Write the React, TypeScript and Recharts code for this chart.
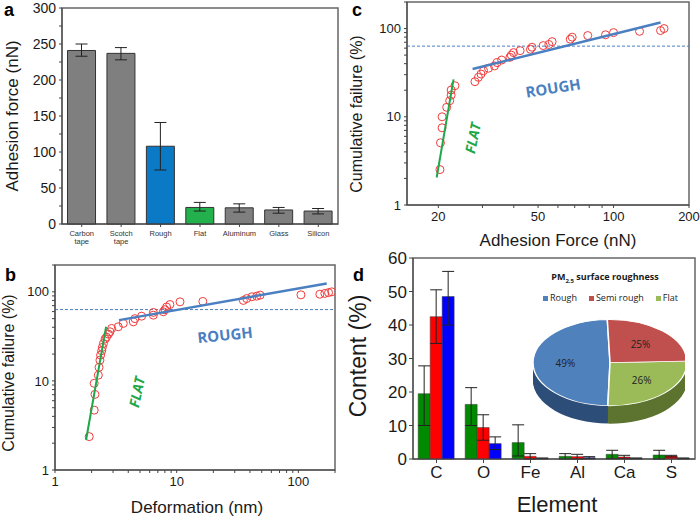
import React from "react";
import {
  BarChart,
  Bar,
  XAxis,
  YAxis,
  ErrorBar,
  Cell,
  ReferenceLine,
  ScatterChart,
  Scatter,
  PieChart,
  Pie,
} from "recharts";

// panel a
const substrates = ["Carbon tape", "Scotch tape", "Rough", "Flat", "Aluminum", "Glass", "Silicon"];
const adhesion = [241, 237, 108, 23, 22.5, 19.5, 18];
const adhesionErr = [[8, 9], [9, 8], [33, 33], [5, 7], [6, 5.5], [4.5, 3.5], [4, 3.5]];
const substrateColors = ["#7f7f7f", "#7f7f7f", "#0a79c6", "#22b14c", "#7f7f7f", "#7f7f7f", "#7f7f7f"];
const adhesionTicks = [0, 25, 50, 75, 100, 125, 150, 175, 200, 225, 250, 275, 300];

// panel b
const deformation = [1.91, 2.1, 2.13, 2.1, 2.27, 2.3, 2.34, 2.37, 2.42, 2.45, 2.5, 2.58, 2.65, 2.75, 2.83, 2.92, 3.31, 3.64, 4.4, 4.54, 5.15, 6.43, 6.43, 7.77, 8.0, 8.26, 8.8, 10.65, 16.4, 35.3, 37.6, 41.5, 45.5, 48.5, 105, 150, 165, 177, 188];
const deformFail = [2.37, 4.7, 7.06, 9.4, 11.6, 14.2, 17.1, 19.5, 21.8, 23.8, 26.3, 29.5, 31, 33.5, 35.6, 38.8, 40.5, 44.2, 46, 50, 53.3, 54.7, 58.7, 59.7, 63, 67.6, 72, 77.2, 78, 80, 84, 88, 89.4, 91.8, 92.5, 94, 96, 98, 100];
const deformFlatFit = [[1.8, 2.17], [2.63, 40.5]];
const deformRoughFit = [[3.36, 48.1], [171, 124]];
const deformTicks = [1, 2, 3, 4, 5, 6, 7, 8, 9, 10, 20, 30, 40, 50, 60, 70, 80, 90, 100, 200];

// panel c
const force = [20.3, 20.4, 20.7, 20.7, 21.6, 22.2, 22.5, 22.5, 23.3, 28.0, 28.9, 29.6, 30.3, 31.7, 33.5, 34.3, 35.8, 38.6, 39.1, 39.9, 42.4, 46.6, 47.3, 52.4, 55.2, 56.9, 67.2, 68.4, 78.9, 92.9, 100, 127, 154, 159];
const forceFail = [2.52, 5.07, 7.5, 10, 12.8, 15.2, 17.6, 20.1, 22.5, 25, 28, 30.5, 33.3, 35.5, 37.7, 41.1, 44, 47.2, 50, 53.4, 56.2, 58.2, 61.4, 64.1, 66, 71.1, 75.7, 79.8, 83.3, 85, 90, 93, 95, 100];
const forceFlatFit = [[19.7, 2.05], [23.0, 26.6]];
const forceRoughFit = [[27.4, 34.8], [154, 117]];
const forceTicks = [20, 30, 40, 50, 60, 70, 80, 90, 100, 200];
const forceLabels = [20, 50, 100, 200];

// shared failure axis
const failTicks = [1, 2, 3, 4, 5, 6, 7, 8, 9, 10, 20, 30, 40, 50, 60, 70, 80, 90, 100, 200];
const decadeLabels = [1, 10, 100];

// panel d
const elements = ["C", "O", "Fe", "Al", "Ca", "S"];
const flatContent = [19.5, 16.3, 4.9, 0.8, 1.4, 1.2];
const flatErr = [[9.5, 8.3], [6.3, 5], [4, 5.3], [0.8, 0.8], [1.3, 1.2], [1.2, 1.4]];
const semiContent = [42.5, 9.4, 0.8, 0.7, 0.6, 0.9];
const semiErr = [[8, 8], [3.8, 3.8], [0.8, 0.8], [0.7, 0.7], [0.5, 0.5], [0.3, 0.2]];
const roughContent = [48.5, 4.6, 0.2, 0.4, 0.2, 0.2];
const roughErr = [[8.5, 7.5], [1.8, 2], [0.1, 0.1], [0.3, 0.3], [0.1, 0.1], [0.1, 0.1]];
const contentTicks = [0, 10, 20, 30, 40, 50, 60];

// inset pie
const pieNames = ["Rough", "Flat", "Semi rough"];
const pieShares = [49, 26, 25];
const pieTop = ["#4f81bd", "#9bbb59", "#c0504d"];
const pieSide = ["#2d4e78", "#5d7430", "#7b2f2d"];
const legendOrder = [0, 2, 1];

const FONT = "'Liberation Sans', Arial, sans-serif";
const CAL = "'Open Sans', 'Noto Sans', sans-serif";
const AXIS = "#444";
const TXT = "#1a1a1a";

// plot boxes (left, top, width, height) matching the chart margins below
const frames = [
  [62, 8, 276, 216],
  [55, 265, 280, 205],
  [407, 2, 282, 203],
  [413, 258, 282, 201],
];

const substrateData = substrates.map((name, i) => ({ name, v: adhesion[i], e: adhesionErr[i] }));
const deformData = deformation.map((x, i) => ({ x, y: deformFail[i] }));
const forceData = force.map((x, i) => ({ x, y: forceFail[i] }));
const toXY = (pts: number[][]) => pts.map(([x, y]) => ({ x, y }));
const elementData = elements.map((name, i) => ({
  name,
  flat: flatContent[i],
  flatE: flatErr[i],
  semi: semiContent[i],
  semiE: semiErr[i],
  rough: roughContent[i],
  roughE: roughErr[i],
}));
const pieData = pieNames.map((name, i) => ({ name, value: pieShares[i] }));

const PIE_SY = 0.56;
const PIE_DEPTH = [32, 30, 28, 26, 24, 22, 20, 18, 16, 14, 12, 10, 8, 6, 4, 2];

const Circle = (p: any) => (
  <circle cx={p.cx} cy={p.cy} r={4} fill="none" stroke="#f03c3c" strokeWidth={1} />
);
const NoShape = () => <g />;
const only = (keep: number[]) => (v: number) => (keep.includes(v) ? String(v) : "");

const TwoLineTick = ({ x, y, payload }: any) => {
  const words = String(payload.value).split(" ");
  const lines = words.length > 1 && words[1] === "tape" ? words : [payload.value];
  return (
    <text x={x} y={y} textAnchor="middle" fontSize={7.5} fill="#333" fontFamily={FONT}>
      {lines.map((w: string, i: number) => (
        <tspan key={i} x={x} dy={i === 0 ? 7 : 8}>
          {w}
        </tspan>
      ))}
    </text>
  );
};

const Title = ({ x, y, size, children, rotate = 0, color = TXT, weight = 400, italic = false, family = FONT }: any) => (
  <div
    style={{
      position: "absolute",
      left: x,
      top: y,
      transform: `translate(-50%, -50%) rotate(${rotate}deg)`,
      fontSize: size,
      fontFamily: family,
      color,
      fontWeight: weight,
      fontStyle: italic ? "italic" : "normal",
      whiteSpace: "nowrap",
      lineHeight: 1,
    }}
  >
    {children}
  </div>
);

const Letter = ({ x, y, children }: any) => (
  <div style={{ position: "absolute", left: x, top: y, fontSize: 18, fontWeight: 700, fontFamily: FONT, color: "#000", lineHeight: 1 }}>
    {children}
  </div>
);

const pieLabel = (p: any) => {
  const RAD = Math.PI / 180;
  const r = p.outerRadius * 0.58;
  const x = p.cx + r * Math.cos(-p.midAngle * RAD);
  const y = p.cy + r * Math.sin(-p.midAngle * RAD);
  return (
    <text
      transform={`translate(${x},${y}) scale(1,${1 / PIE_SY})`}
      textAnchor="middle"
      dominantBaseline="central"
      fontSize={10}
      fontFamily={CAL}
      fill="#222"
    >
      {`${p.value}%`}
    </text>
  );
};

const tickStyle = (size: number) => ({ fontSize: size, fill: TXT, fontFamily: FONT });

export default function App() {
  return (
    <div style={{ position: "fixed", left: 0, top: 0, width: 700, height: 518, background: "#fff", overflow: "hidden" }}>
      {/* plot frames, drawn under the charts */}
      <svg width={700} height={518} style={{ position: "absolute", left: 0, top: 0 }}>
        {frames.map(([x, y, w, h], i) => (
          <rect key={i} x={x} y={y} width={w} height={h} fill="none" stroke="#666" strokeWidth={1.5} />
        ))}
      </svg>

      {/* a */}
      <div style={{ position: "absolute", left: 0, top: 0 }}>
        <BarChart width={345} height={258} data={substrateData} margin={{ top: 8, right: 7, left: 0, bottom: 0 }} barCategoryGap="14%">
          <XAxis dataKey="name" height={34} interval={0} tick={<TwoLineTick />} tickSize={3} stroke={AXIS} />
          <YAxis width={62} domain={[0, 300]} ticks={adhesionTicks} interval={0} tickFormatter={(v: number) => (v % 50 === 0 ? String(v) : "")} tick={tickStyle(14)} tickSize={3} tickMargin={3} stroke={AXIS} />
          <Bar dataKey="v" stroke="#333" strokeWidth={1} isAnimationActive={false}>
            {substrateData.map((d, i) => (
              <Cell key={d.name} fill={substrateColors[i]} />
            ))}
            <ErrorBar dataKey="e" width={6} stroke="#222" strokeWidth={1} />
          </Bar>
        </BarChart>
      </div>

      {/* b */}
      <div style={{ position: "absolute", left: 0, top: 260 }}>
        <ScatterChart width={345} height={258} margin={{ top: 5, right: 10, left: 0, bottom: 0 }}>
          <XAxis type="number" dataKey="x" scale="log" domain={[1, 200]} ticks={deformTicks} interval={0} tickFormatter={only(decadeLabels)} allowDataOverflow height={48} tick={tickStyle(13)} tickSize={3} tickMargin={4} stroke={AXIS} />
          <YAxis type="number" dataKey="y" scale="log" domain={[1, 200]} ticks={failTicks} interval={0} tickFormatter={only(decadeLabels)} allowDataOverflow width={55} tick={tickStyle(13)} tickSize={3} tickMargin={3} stroke={AXIS} />
          <ReferenceLine y={63.2} stroke="#4a7fc1" strokeDasharray="3 2" strokeWidth={1} />
          <Scatter data={deformData} shape={Circle} isAnimationActive={false} />
          <Scatter data={toXY(deformFlatFit)} line={{ stroke: "#1ea84a", strokeWidth: 2 }} shape={NoShape} isAnimationActive={false} />
          <Scatter data={toXY(deformRoughFit)} line={{ stroke: "#4a7fc1", strokeWidth: 2.5 }} shape={NoShape} isAnimationActive={false} />
        </ScatterChart>
      </div>

      {/* c */}
      <div style={{ position: "absolute", left: 350, top: 0 }}>
        <ScatterChart width={350} height={258} margin={{ top: 2, right: 11, left: 0, bottom: 0 }}>
          <XAxis type="number" dataKey="x" scale="log" domain={[15, 200]} ticks={forceTicks} interval={0} tickFormatter={only(forceLabels)} allowDataOverflow height={53} tick={tickStyle(13)} tickSize={3} tickMargin={4} stroke={AXIS} />
          <YAxis type="number" dataKey="y" scale="log" domain={[1, 200]} ticks={failTicks} interval={0} tickFormatter={only(decadeLabels)} allowDataOverflow width={57} tick={tickStyle(13)} tickSize={3} tickMargin={3} stroke={AXIS} />
          <ReferenceLine y={63.2} stroke="#4a7fc1" strokeDasharray="3 2" strokeWidth={1} />
          <Scatter data={forceData} shape={Circle} isAnimationActive={false} />
          <Scatter data={toXY(forceFlatFit)} line={{ stroke: "#1ea84a", strokeWidth: 2 }} shape={NoShape} isAnimationActive={false} />
          <Scatter data={toXY(forceRoughFit)} line={{ stroke: "#4a7fc1", strokeWidth: 2.5 }} shape={NoShape} isAnimationActive={false} />
        </ScatterChart>
      </div>

      {/* d */}
      <div style={{ position: "absolute", left: 350, top: 240 }}>
        <BarChart width={350} height={278} data={elementData} margin={{ top: 18, right: 5, left: 0, bottom: 0 }} barCategoryGap="11%" barGap={0}>
          <XAxis dataKey="name" height={59} interval={0} tick={tickStyle(17)} tickSize={4} tickMargin={3} stroke={AXIS} />
          <YAxis width={63} domain={[0, 60]} ticks={contentTicks} tick={tickStyle(17)} tickSize={4} tickMargin={2} stroke={AXIS} />
          <Bar dataKey="flat" fill="#008a00" stroke="#3a3a3a" strokeWidth={0.5} isAnimationActive={false}>
            <ErrorBar dataKey="flatE" width={6} stroke="#222" strokeWidth={1} />
          </Bar>
          <Bar dataKey="semi" fill="#ff0000" stroke="#3a3a3a" strokeWidth={0.5} isAnimationActive={false}>
            <ErrorBar dataKey="semiE" width={6} stroke="#222" strokeWidth={1} />
          </Bar>
          <Bar dataKey="rough" fill="#0000ff" stroke="#3a3a3a" strokeWidth={0.5} isAnimationActive={false}>
            <ErrorBar dataKey="roughE" width={6} stroke="#222" strokeWidth={1} />
          </Bar>
        </BarChart>
      </div>

      {/* inset pie */}
      <div style={{ position: "absolute", left: 525, top: 315, transform: `scaleY(${PIE_SY})`, transformOrigin: "top left" }}>
        <PieChart width={160} height={200}>
          {PIE_DEPTH.map((d) => (
            <Pie key={d} data={pieData} dataKey="value" cx={80} cy={80 + d} outerRadius={77} startAngle={92} endAngle={452} stroke="none" isAnimationActive={false}>
              {pieData.map((s, i) => (
                <Cell key={s.name} fill={pieSide[i]} />
              ))}
            </Pie>
          ))}
          <Pie data={pieData} dataKey="value" cx={80} cy={80} outerRadius={77} startAngle={92} endAngle={452} stroke="#fff" strokeWidth={1.5} label={pieLabel} labelLine={false} isAnimationActive={false}>
            {pieData.map((s, i) => (
              <Cell key={s.name} fill={pieTop[i]} />
            ))}
          </Pie>
        </PieChart>
      </div>
      <Title x={605} y={278} size={9} weight={700} family={CAL}>
        PM<sub style={{ fontSize: 6 }}>2.5</sub> surface roughness
      </Title>
      <div style={{ position: "absolute", left: 543, top: 292, display: "flex", gap: 12, fontFamily: CAL, fontSize: 9, color: "#222", lineHeight: "12px" }}>
        {legendOrder.map((i) => (
          <div key={pieNames[i]} style={{ display: "flex", alignItems: "center", gap: 2 }}>
            <span style={{ display: "inline-block", width: 5, height: 5, background: pieTop[i] }} />
            {pieNames[i]}
          </div>
        ))}
      </div>

      {/* axis titles */}
      <Title x={12} y={116} size={17} rotate={-90}>Adhesion force (nN)</Title>
      <Title x={9} y={373} size={16} rotate={-90}>Cumulative failure (%)</Title>
      <Title x={197} y={507} size={17}>Deformation (nm)</Title>
      <Title x={357} y={114} size={16} rotate={-90}>Cumulative failure (%)</Title>
      <Title x={558} y={240} size={17}>Adhesion Force (nN)</Title>
      <Title x={358} y={356} size={23} rotate={-90}>Content (%)</Title>
      <Title x={557} y={505} size={22}>Element</Title>

      {/* annotations */}
      <Title x={137} y={392} size={14} rotate={-78} color="#1ea84a" weight={700} italic family={CAL}>FLAT</Title>
      <Title x={225} y={335} size={15} rotate={-6} color="#4a7fc1" weight={700} family={CAL}>ROUGH</Title>
      <Title x={473} y={138} size={14} rotate={-78} color="#1ea84a" weight={700} italic family={CAL}>FLAT</Title>
      <Title x={553} y={88} size={15} rotate={-9} color="#4a7fc1" weight={700} family={CAL}>ROUGH</Title>

      {/* panel letters */}
      <Letter x={4} y={1}>a</Letter>
      <Letter x={5} y={266}>b</Letter>
      <Letter x={352} y={1}>c</Letter>
      <Letter x={353} y={266}>d</Letter>
    </div>
  );
}
